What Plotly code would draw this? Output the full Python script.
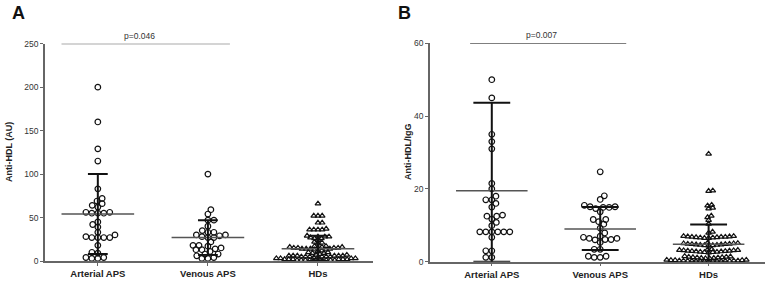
import math
import numpy as np
import plotly.graph_objects as go

# ---------------- data ----------------
categories = ["Arterial APS", "Venous APS", "HDs"]

a_arterial = [200, 160, 129, 115, 83, 72, 69, 66, 64, 62, 56, 56, 55, 55, 55,
              45, 42, 39, 33, 30, 28, 27, 27, 27, 27, 18, 10, 9, 4, 4, 3, 3]
a_venous = [100, 59, 54, 47, 47, 40, 35, 33, 30, 30, 29, 28, 27, 27, 33, 22,
            18, 18, 17, 15, 14, 13, 13, 11, 8, 8, 6, 4, 3, 3]
a_hds = [66, 52, 52, 52, 44, 44, 37, 36, 36, 36, 36,
         29, 28, 28, 28, 27, 26, 26, 24, 22, 21, 20,
         17, 17, 16, 16, 16, 15, 15, 15, 15, 15, 14, 14, 14, 14, 13, 13,
         12, 11, 10, 10, 9, 9, 8,
         7, 7, 6, 6, 6, 6, 6, 6, 5, 5, 5, 5, 5, 5, 4, 4,
         3, 3, 3, 3, 2, 2, 2, 2, 2, 2, 1, 1, 1, 1, 1, 1, 1, 0.5, 0.5, 0.5]

b_arterial = [50, 45, 35, 33, 31, 21.5, 20, 18, 17, 17, 16, 15, 12.5, 12.5,
              12.8, 11.7, 10.8, 9.9, 8.2, 8.2, 8.2, 8.2, 8.2, 8.2, 6.7, 3, 3,
              1.2, 1.2]
b_venous = [24.7, 18.1, 17.1, 15.1, 14.9, 14.6, 15.5, 15.1, 14.9, 13.7, 11.6,
            11.6, 10.3, 11, 9.2, 7.9, 7, 6.7, 6.4, 6.1, 6, 6.1, 6.4, 5.3, 3.4,
            3.4, 1.5, 1.2, 1.2, 1.5]
b_hds = [29.6, 19.5, 19.4, 15.6, 15.4, 14.8, 14.6, 12.6, 12.2, 11.4, 10.4,
         8.2, 7.9,
         7.0, 7.0, 6.9, 6.9, 6.8, 6.8, 6.8, 6.7, 6.7, 6.6, 6.6, 6.5, 6.5,
         5.2, 5.1, 5.0, 5.0, 4.9, 4.9, 4.8, 4.8, 4.7, 4.7, 4.6, 4.6, 4.5, 4.5, 4.4,
         3.4, 3.3, 3.2, 3.2, 3.1, 3.1, 3.0, 3.0, 2.9, 2.9, 2.8, 2.8, 2.7, 2.7,
         2.6, 2.6, 2.5,
         1.5, 1.4, 1.3, 1.3, 1.2, 1.2, 1.1, 1.1, 1.0, 1.0, 0.9, 0.9,
         0.5, 0.5, 0.4, 0.4, 0.4, 0.3, 0.3, 0.3, 0.3, 0.2, 0.2, 0.2, 0.2,
         0.1, 0.1, 0.1, 0.1, 0.1, 0.1, 0.1]

a_means = [54, 27, 14]
a_sd_low = [8, 7, 0]
a_sd_high = [100, 47, 29]
b_means = [19.5, 9, 4.8]
b_sd_low = [0, 3.2, 0]
b_sd_high = [43.7, 15, 10.2]

a_yticks = [0, 50, 100, 150, 200, 250]
b_yticks = [0, 20, 40, 60]
a_title = "Anti-HDL (AU)"
b_title = "Anti-HDL/IgG"
p_labels = ["p=0.046", "p=0.007"]
panel_letters = ["A", "B"]

# ---------------- layout geometry ----------------
W, H = 765, 283
FONT = "Arial, Liberation Sans, sans-serif"

axA_x = (45, 373)
axA_y = (261.0, 43.7)
axB_x = (430, 765)
axB_y = (261.7, 43.3)
a_xrange = [-0.48, 2.5]
b_xrange = [-0.57, 2.52]


def swarm(values, px_per_unit, px_per_cat, dw, dh):
    """Beeswarm offsets (elliptical collision dw x dh, in px)."""
    vals = np.asarray(values, float)
    order = np.argsort(vals, kind="stable")
    placed = []
    out = np.zeros(len(vals))
    for k, i in enumerate(order):
        y = vals[i] * px_per_unit
        ivs = []
        for (xj, yj) in placed:
            dy = abs(y - yj) / dh
            if dy < 1:
                w = dw * math.sqrt(1 - dy * dy)
                ivs.append((xj - w, xj + w))
        cands = [0.0] + [a for a, b in ivs] + [b for a, b in ivs]
        valid = [c for c in cands
                 if all(not (a + 1e-6 < c < b - 1e-6) for a, b in ivs)]
        sgn = 1 if k % 2 == 0 else -1
        x = min(valid, key=lambda c: (round(abs(c), 3), -sgn * c))
        placed.append((x, y))
        out[i] = x / px_per_cat
    return out


fig = go.Figure()

panels = [
    dict(groups=[a_arterial, a_venous, a_hds], means=a_means, lo=a_sd_low,
         hi=a_sd_high, xr=a_xrange, axx=axA_x, axy=axA_y, ymax=250,
         xa="x", ya="y", cap=0.09, p=p_labels[0], bracket=(-0.33, 1.2),
         ptext=0.38),
    dict(groups=[b_arterial, b_venous, b_hds], means=b_means, lo=b_sd_low,
         hi=b_sd_high, xr=b_xrange, axx=axB_x, axy=axB_y, ymax=60,
         xa="x2", ya="y2", cap=0.17, p=p_labels[1], bracket=(-0.2, 1.24),
         ptext=0.46),
]

for P in panels:
    px_per_cat = (P["axx"][1] - P["axx"][0]) / (P["xr"][1] - P["xr"][0])
    px_per_unit = (P["axy"][0] - P["axy"][1]) / P["ymax"]
    for gi, vals in enumerate(P["groups"]):
        tri = gi == 2
        if tri:
            offs = swarm(vals, px_per_unit, px_per_cat, 4.2, 3.0)
        else:
            offs = swarm(vals, px_per_unit, px_per_cat, 6.0, 5.0)
        fig.add_trace(go.Scatter(
            x=gi + offs, y=vals, mode="markers", xaxis=P["xa"], yaxis=P["ya"],
            cliponaxis=False, showlegend=False, hoverinfo="skip",
            marker=dict(symbol="triangle-up-open" if tri else "circle-open",
                        size=5 if tri else 5.6, color="#111",
                        line=dict(width=1.2, color="#111"))))
    for gi in range(3):
        m = P["means"][gi]
        fig.add_trace(go.Scatter(
            x=[gi - 0.33, gi + 0.33], y=[m, m], mode="lines",
            xaxis=P["xa"], yaxis=P["ya"], showlegend=False, hoverinfo="skip",
            cliponaxis=False, line=dict(color="#555", width=1.5)))
        lo, hi = P["lo"][gi], P["hi"][gi]
        c = P["cap"]
        fig.add_trace(go.Scatter(
            x=[gi, gi, None, gi - c, gi + c, None, gi - c, gi + c],
            y=[lo, hi, None, hi, hi, None, lo, lo], mode="lines",
            xaxis=P["xa"], yaxis=P["ya"], showlegend=False, hoverinfo="skip",
            cliponaxis=False, line=dict(color="#111", width=2)))
    b0, b1 = P["bracket"]
    fig.add_trace(go.Scatter(
        x=[b0, b1], y=[P["ymax"], P["ymax"]], mode="lines",
        xaxis=P["xa"], yaxis=P["ya"], showlegend=False, hoverinfo="skip",
        cliponaxis=False, line=dict(color="#555", width=1.2)))
    fig.add_annotation(x=P["ptext"], y=P["ymax"], xref=P["xa"], yref=P["ya"],
                       text=P["p"], showarrow=False, yanchor="bottom",
                       xanchor="center", yshift=1,
                       font=dict(family=FONT, size=8.5, color="#333"))


def px(x):
    return x / W


def py(y):
    return 1 - y / H


def dom_x(a):
    return [px(a[0]), min(1.0, px(a[1]))]


def dom_y(a):
    return [py(a[0]), py(a[1])]


axis_common = dict(showgrid=False, zeroline=False, showline=True,
                   linecolor="#666", linewidth=1.5, ticks="outside",
                   ticklen=3, tickcolor="#666", tickwidth=1.2,
                   automargin=False)

fig.update_layout(
    width=W, height=H, margin=dict(l=0, r=0, t=0, b=0, autoexpand=False),
    paper_bgcolor="white", plot_bgcolor="white",
    font=dict(family=FONT, color="#222"),
    xaxis=dict(domain=dom_x(axA_x), range=a_xrange, anchor="y",
               tickvals=[0, 1, 2], ticktext=[f"<b>{c}</b>" for c in categories],
               tickfont=dict(size=9.5, family=FONT, color="#222"), **axis_common),
    yaxis=dict(domain=dom_y(axA_y), range=[0, 250], anchor="x",
               tickvals=a_yticks, tickfont=dict(size=8.5, family=FONT, color="#333"),
               **axis_common),
    xaxis2=dict(domain=dom_x(axB_x), range=b_xrange, anchor="y2",
                tickvals=[0, 1, 2], ticktext=[f"<b>{c}</b>" for c in categories],
                tickfont=dict(size=9.5, family=FONT, color="#222"), **axis_common),
    yaxis2=dict(domain=dom_y(axB_y), range=[0, 60], anchor="x2",
                tickvals=b_yticks, tickfont=dict(size=8.5, family=FONT, color="#333"),
                **axis_common),
)

fig.add_annotation(x=px(9), y=py(152), xref="paper", yref="paper",
                   xanchor="center", yanchor="middle",
                   text=f"<b>{a_title}</b>", textangle=-90, showarrow=False,
                   font=dict(family=FONT, size=9, color="#222"))
fig.add_annotation(x=px(408), y=py(152), xref="paper", yref="paper",
                   xanchor="center", yanchor="middle",
                   text=f"<b>{b_title}</b>", textangle=-90, showarrow=False,
                   font=dict(family=FONT, size=9, color="#222"))
fig.add_annotation(x=px(18), y=py(13), xref="paper", yref="paper",
                   xanchor="center", yanchor="middle",
                   text=f"<b>{panel_letters[0]}</b>", showarrow=False,
                   font=dict(family=FONT, size=18, color="#111"))
fig.add_annotation(x=px(404), y=py(13), xref="paper", yref="paper",
                   xanchor="center", yanchor="middle",
                   text=f"<b>{panel_letters[1]}</b>", showarrow=False,
                   font=dict(family=FONT, size=18, color="#111"))

fig.write_html("out.html",
               config={"displayModeBar": False},
               post_script="document.body.style.margin='0';"
                           "document.body.style.overflow='hidden';")
